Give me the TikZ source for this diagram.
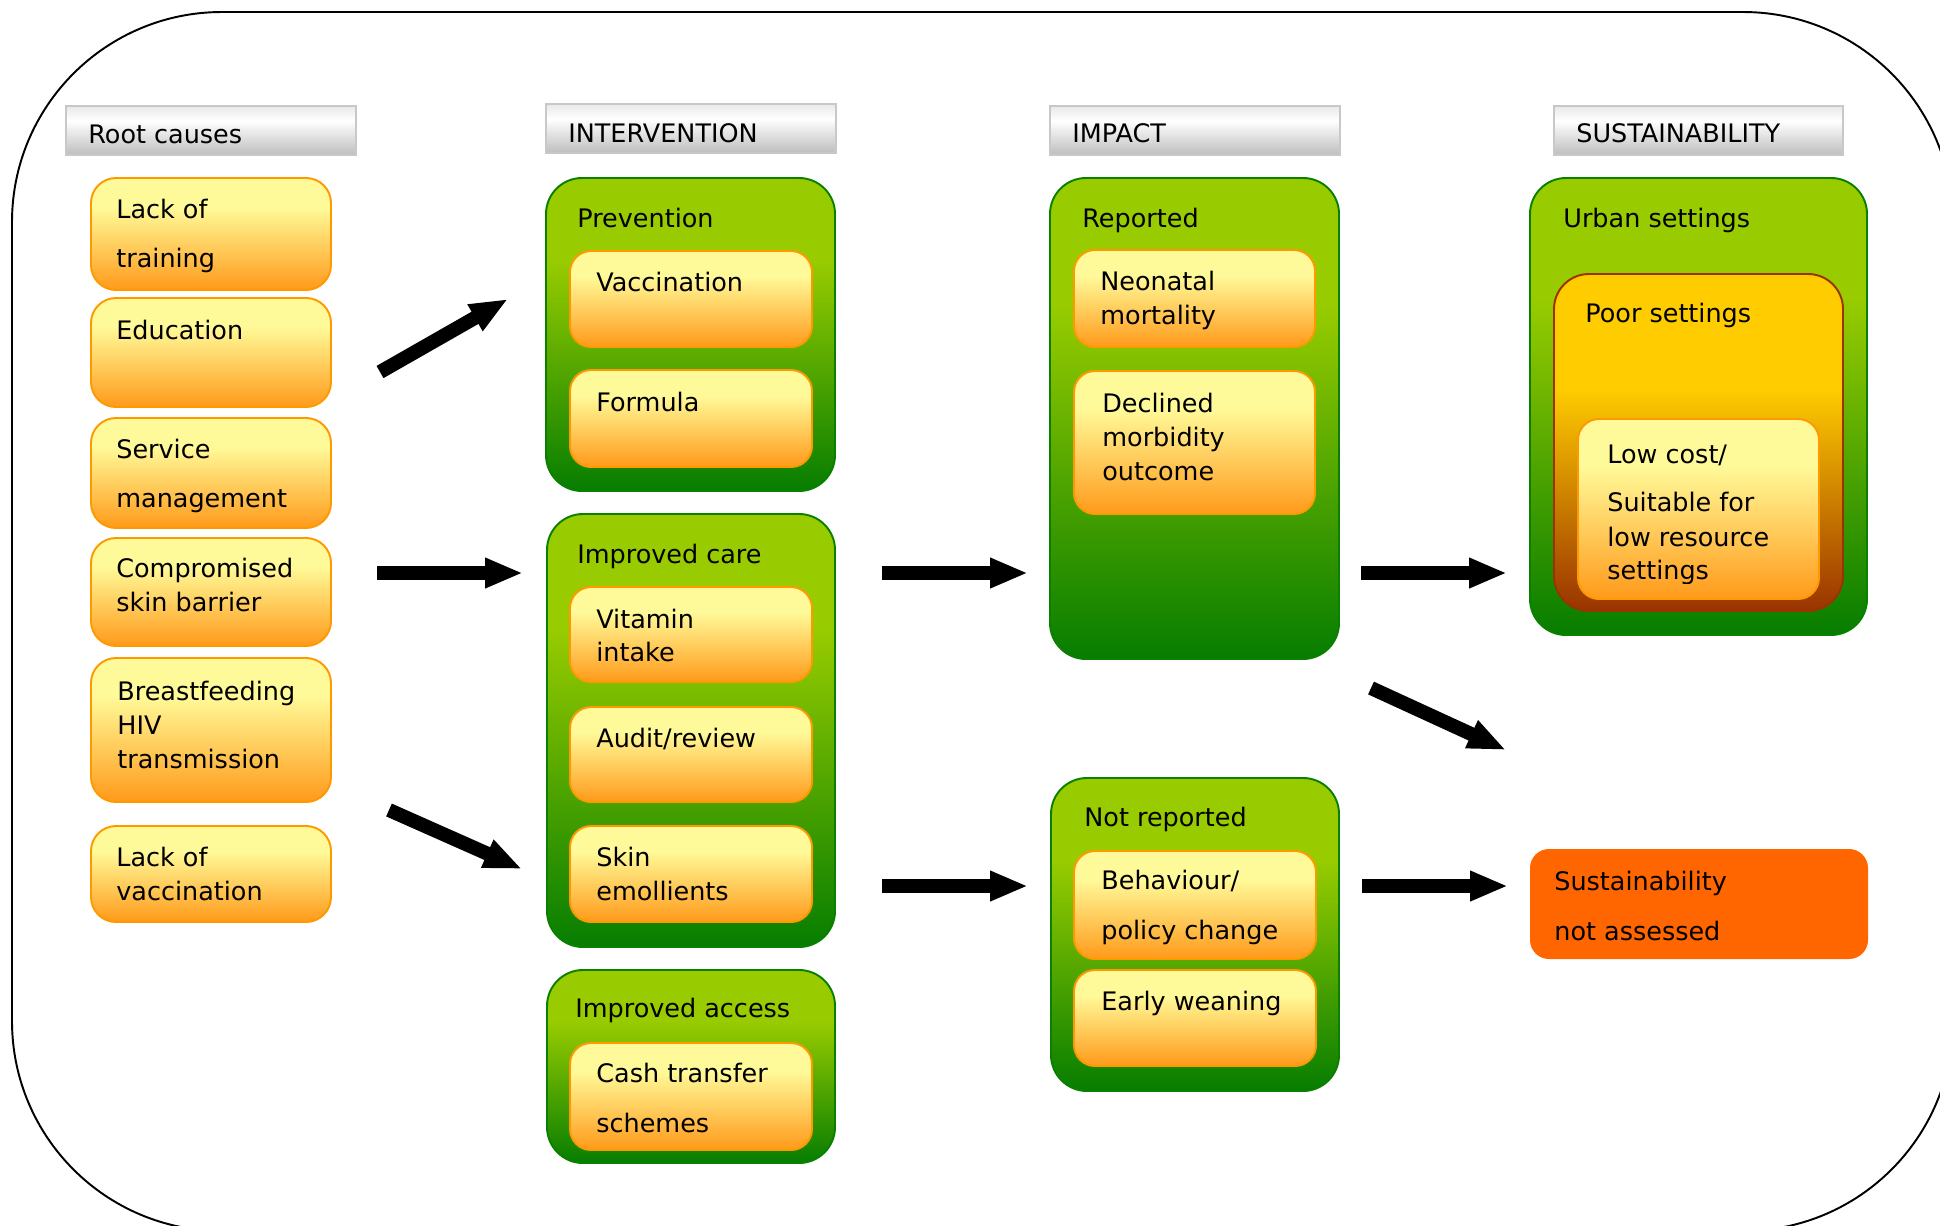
\documentclass[tikz,border=0pt]{standalone}
\usepackage{fontspec}
\setmainfont{DejaVu Sans}
\usetikzlibrary{arrows.meta,fit}
\definecolor{orTop}{HTML}{FFFA99}
\definecolor{orBot}{HTML}{FF9A1A}
\definecolor{orLine}{HTML}{FF9900}
\definecolor{grTop}{HTML}{99CC00}
\definecolor{grBot}{HTML}{067D00}
\definecolor{grLine}{HTML}{0B8000}
\definecolor{poTop}{HTML}{FFCC00}
\definecolor{poBot}{HTML}{993300}
\definecolor{hdTop}{HTML}{E9E9E9}
\definecolor{hdBot}{HTML}{BEBEBE}
\definecolor{hdLine}{HTML}{C8C8C8}
\definecolor{naFill}{HTML}{FF6600}
\pgfdeclareverticalshading{orsh}{100bp}{color(0bp)=(orBot); color(25bp)=(orBot); color(62bp)=(orTop); color(75bp)=(orTop); color(100bp)=(orTop)}
\pgfdeclareverticalshading{grsh}{100bp}{color(0bp)=(grBot); color(25bp)=(grBot); color(62bp)=(grTop); color(75bp)=(grTop); color(100bp)=(grTop)}
\pgfdeclareverticalshading{posh}{100bp}{color(0bp)=(poBot); color(25bp)=(poBot); color(58bp)=(poTop); color(75bp)=(poTop); color(100bp)=(poTop)}
\pgfdeclareverticalshading{hdsh}{100bp}{color(0bp)=(hdBot); color(25bp)=(hdBot); color(60bp)=(white); color(75bp)=(hdTop); color(100bp)=(hdTop)}
\newcommand\ml[2]{\vtop{\baselineskip=#1\relax #2}}
\tikzset{
  fnt/.style={font=\fontsize{14.5}{17}\selectfont},
  txt/.style={fnt, anchor=base west, inner sep=0pt, text=black},
  hdbox/.style={draw=hdLine, line width=1.4pt, shading=hdsh, inner sep=0pt},
  obox/.style={draw=orLine, line width=1.1pt, shading=orsh, rounded corners=0.42cm, inner sep=0pt},
  rbox/.style={obox, rounded corners=0.5cm},
  gbox/.style={draw=grLine, line width=1.1pt, shading=grsh, rounded corners=0.72cm, inner sep=0pt},
  pbox/.style={draw=poBot, line width=1.1pt, shading=posh, rounded corners=0.7cm, inner sep=0pt},
  nabox/.style={fill=naFill, rounded corners=0.38cm, inner sep=0pt},
  barrow/.style={line width=0.28cm, -{Triangle[length=0.76cm,width=0.56cm]}},
  frame/.style={line width=1.1pt, rounded corners=4.2cm}
}
\begin{document}
\begin{tikzpicture}[x=0.02cm, y=-0.02cm]
\useasboundingbox (0,0) rectangle (1940,1225);
\fill[white] (0,0) rectangle (1940,1225);
\draw[frame] (12,12) rectangle (1953,1231);

% headers
\node[hdbox, fit={(66,106) (356,155)}] (h1) {};
\node[txt] (h1t) at (88,143) {Root causes};
\node[hdbox, fit={(546,104) (836,153)}] (h2) {};
\node[txt] (h2t) at (568,142) {INTERVENTION};
\node[hdbox, fit={(1050,106) (1340,155)}] (h3) {};
\node[txt] (h3t) at (1072,142) {IMPACT};
\node[hdbox, fit={(1554,106) (1843,155)}] (h4) {};
\node[txt] (h4t) at (1576,142) {SUSTAINABILITY};

% root causes
\node[rbox, fit={(91,178) (331,290)}] (r1) {};
\node[txt] (r1t) at (116,218) {\ml{28.45pt}{\hbox{Lack of}\hbox{training}}};
\node[rbox, fit={(91,298) (331,407)}] (r2) {};
\node[txt] (r2t) at (116,339) {Education};
\node[rbox, fit={(91,418) (331,528)}] (r3) {};
\node[txt] (r3t) at (116,458) {\ml{28.45pt}{\hbox{Service}\hbox{management}}};
\node[rbox, fit={(91,538) (331,646)}] (r4) {};
\node[txt] (r4t) at (116,577) {\ml{19.9pt}{\hbox{Compromised}\hbox{skin barrier}}};
\node[rbox, fit={(91,658) (331,802)}] (r5) {};
\node[txt] (r5t) at (117,700) {\ml{19.6pt}{\hbox{Breastfeeding}\hbox{HIV}\hbox{transmission}}};
\node[rbox, fit={(91,826) (331,922)}] (r6) {};
\node[txt] (r6t) at (116,866) {\ml{19.9pt}{\hbox{Lack of}\hbox{vaccination}}};

% intervention
\node[gbox, fit={(546,178) (835,491)}] (gP) {};
\node[txt] (gPt) at (577,227) {Prevention};
\node[obox, fit={(570,251) (812,347)}] (p1) {};
\node[txt] (p1t) at (596,291) {Vaccination};
\node[obox, fit={(570,370) (812,467)}] (p2) {};
\node[txt] (p2t) at (596,411) {Formula};

\node[gbox, fit={(547,514) (835,947)}] (gC) {};
\node[txt] (gCt) at (577,563) {Improved care};
\node[obox, fit={(570,587) (812,682)}] (c1) {};
\node[txt] (c1t) at (596,628) {\ml{18.8pt}{\hbox{Vitamin}\hbox{intake}}};
\node[obox, fit={(570,707) (812,802)}] (c2) {};
\node[txt] (c2t) at (596,747) {Audit/review};
\node[obox, fit={(570,826) (812,922)}] (c3) {};
\node[txt] (c3t) at (596,866) {\ml{19.9pt}{\hbox{Skin}\hbox{emollients}}};

\node[gbox, fit={(547,970) (835,1163)}] (gA) {};
\node[txt] (gAt) at (575,1017) {Improved access};
\node[obox, fit={(570,1043) (812,1150)}] (x1) {};
\node[txt] (x1t) at (596,1082) {\ml{28.45pt}{\hbox{Cash transfer}\hbox{schemes}}};

% impact
\node[gbox, fit={(1050,178) (1339,659)}] (gR) {};
\node[txt] (gRt) at (1082,227) {Reported};
\node[obox, fit={(1074,250) (1315,347)}] (i1) {};
\node[txt] (i1t) at (1100,290) {\ml{19.35pt}{\hbox{Neonatal}\hbox{mortality}}};
\node[obox, fit={(1074,371) (1315,514)}] (i2) {};
\node[txt] (i2t) at (1102,412) {\ml{19.6pt}{\hbox{Declined}\hbox{morbidity}\hbox{outcome}}};

\node[gbox, fit={(1051,778) (1339,1091)}] (gN) {};
\node[txt] (gNt) at (1084,826) {Not reported};
\node[obox, fit={(1074,851) (1316,959)}] (n1) {};
\node[txt] (n1t) at (1101,889) {\ml{29pt}{\hbox{Behaviour/}\hbox{policy change}}};
\node[obox, fit={(1074,970) (1316,1066)}] (n2) {};
\node[txt] (n2t) at (1101,1010) {Early weaning};

% sustainability
\node[gbox, fit={(1530,178) (1867,635)}] (gU) {};
\node[txt] (gUt) at (1563,227) {Urban settings};
\node[pbox, fit={(1554,274) (1843,611)}] (po) {};
\node[txt] (pot) at (1585,322) {Poor settings};
\node[obox, fit={(1578,419) (1819,599)}] (lc) {};
\begin{scope}
\clip (1578,419) rectangle (1819,583);
\node[txt] (lct) at (1607,463) {\vtop{\hbox{Low cost/}\vskip 10.5pt\hbox{Suitable for}\vskip 3.0pt\hbox{low resource}\vskip 1.6pt\hbox{settings}}};
\end{scope}

\node[nabox, fit={(1530,849) (1868,959)}] (na) {};
\node[txt] (nat) at (1554,890) {\ml{28.45pt}{\hbox{Sustainability}\hbox{not assessed}}};

% arrows
\coordinate (a1s) at (380,372); \coordinate (a1e) at (508,299);
\coordinate (a2s) at (377,573); \coordinate (a2e) at (523,573);
\coordinate (a3s) at (389,810); \coordinate (a3e) at (522,869);
\coordinate (a4s) at (882,573); \coordinate (a4e) at (1028,573);
\coordinate (a5s) at (882,886); \coordinate (a5e) at (1028,886);
\coordinate (a6s) at (1361,573); \coordinate (a6e) at (1507,573);
\coordinate (a7s) at (1371,688); \coordinate (a7e) at (1506,750);
\coordinate (a8s) at (1362,886); \coordinate (a8e) at (1508,886);
\draw[barrow] (a1s) -- (a1e);
\draw[barrow] (a2s) -- (a2e);
\draw[barrow] (a3s) -- (a3e);
\draw[barrow] (a4s) -- (a4e);
\draw[barrow] (a5s) -- (a5e);
\draw[barrow] (a6s) -- (a6e);
\draw[barrow] (a7s) -- (a7e);
\draw[barrow] (a8s) -- (a8e);
\end{tikzpicture}
\end{document}
